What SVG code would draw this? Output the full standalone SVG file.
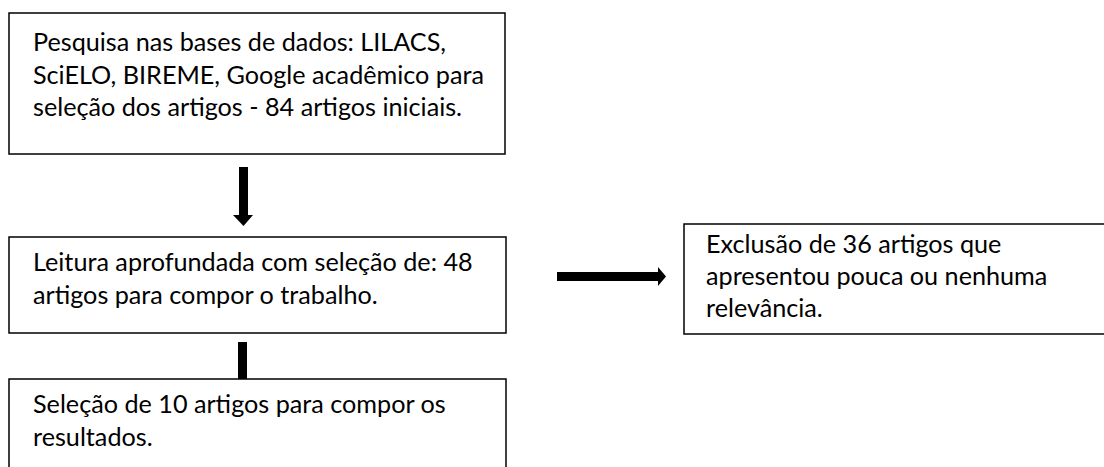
<svg xmlns="http://www.w3.org/2000/svg" width="1104" height="467" viewBox="0 0 1104 467">
<style>
.box{fill:#fff;stroke:#000;stroke-width:1.5}
.t{font-family:Lato,"Open Sans","Liberation Sans",sans-serif;font-size:25.2px;fill:#000}
.bar{fill:#000}
</style>
<rect width="1104" height="467" fill="#fff"/>
<g id="n1">
<rect class="box" x="9" y="13" width="496" height="141"/>
<text class="t" x="33" y="51">Pesquisa nas bases de dados: LILACS,</text>
<text class="t" x="33" y="84">SciELO, BIREME, Google acadêmico para</text>
<text class="t" x="33" y="116">seleção dos artigos - 84 artigos iniciais.</text>
</g>
<g id="n2">
<rect class="box" x="9" y="237" width="497" height="96"/>
<text class="t" x="33" y="271">Leitura aprofundada com seleção de: 48</text>
<text class="t" x="33" y="304">artigos para compor o trabalho.</text>
</g>
<g id="n3">
<rect class="box" x="9" y="379" width="497" height="90"/>
<text class="t" x="33" y="413">Seleção de 10 artigos para compor os</text>
<text class="t" x="33" y="446">resultados.</text>
</g>
<g id="n4">
<rect class="box" x="684" y="224" width="430" height="110"/>
<text class="t" x="706" y="253">Exclusão de 36 artigos que</text>
<text class="t" x="706" y="285">apresentou pouca ou nenhuma</text>
<text class="t" x="706" y="317">relevância.</text>
</g>
<g id="connectors">
<polygon class="bar" points="239,167 248,167 248,215 253,215 243.5,226 233,215 239,215"/>
<rect class="bar" x="238" y="342" width="9" height="37"/>
<polygon class="bar" points="557,272 658,272 658,267 666,276.5 658,286 658,281 557,281"/>
</g>
</svg>
